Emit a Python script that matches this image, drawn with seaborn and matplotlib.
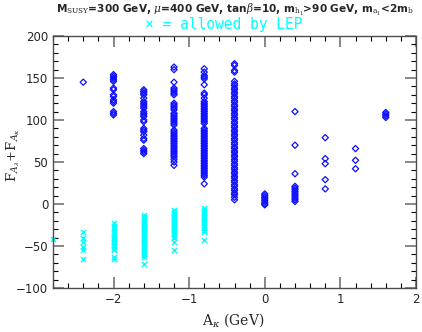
import numpy as np
import pandas as pd
import seaborn as sns
from matplotlib import pyplot as plt
from matplotlib.ticker import MultipleLocator

sns.set_style("ticks")
plt.rcParams["font.family"] = ["DejaVu Sans"]
plt.rcParams["mathtext.fontset"] = "dejavuserif"

# A_kappa columns and the F values
blue_m24 = [145]
blue_m20 = [154, 152, 150, 148, 146, 138, 136, 130, 128, 124, 122, 120, 110, 108, 106]
blue_m16 = [136, 134, 132, 130, 126, 122, 120, 118, 116, 114, 110, 108, 106, 104, 100, 98,
            90, 88, 86, 82, 78, 76, 66, 64, 62, 60]
blue_m12 = [163, 160, 145, 138, 136, 134, 132, 130, 120, 118, 116, 114, 112, 108, 106, 104,
            102, 100, 98, 96, 94, 88, 86, 84, 82, 80, 78, 76, 74, 72, 70, 68, 66, 64, 62,
            60, 58, 56, 53, 50, 46]
blue_m08 = [161, 157, 153, 151, 149, 142, 132, 130, 126, 122, 120, 118, 116, 114, 112, 110,
            108, 106, 104, 102, 100, 98, 96, 90, 88, 86, 84, 82, 80, 78, 76, 74, 72, 70, 68,
            66, 64, 62, 60, 58, 56, 54, 52, 50, 48, 46, 44, 42, 40, 38, 36, 34, 32, 24]
blue_m04 = [167, 165, 159, 157, 146, 143, 141, 138, 136, 133, 131, 128, 126, 123, 121, 118,
            116, 113, 111, 108, 106, 103, 101, 98, 96, 93, 91, 88, 86, 83, 81, 78, 76, 73,
            71, 68, 66, 63, 61, 58, 56, 53, 51, 48, 46, 43, 41, 38, 36, 33, 31, 28, 26, 23,
            21, 18, 16, 13, 11, 8, 5]
blue_0 = [12, 10, 8, 6, 4, 2, 0, -1]
blue_p04 = [110, 70, 36, 21, 19, 17, 15, 13, 11, 9, 7, 5, 3]
blue_p08 = [79, 54, 48, 29, 18]
blue_p12 = [66, 52, 42]
blue_p16 = [109, 107, 105, 103]

cyan_m28 = [-42]
cyan_m24 = [-33, -41, -45, -51, -55, -66]
cyan_m20 = [-23, -26, -29, -32, -35, -37, -39, -41, -43, -45, -47, -49, -51, -53, -55, -63, -65]
cyan_m16 = [-13, -15, -17, -19, -21, -23, -25, -27, -29, -31, -33, -35, -37, -39, -41, -43,
            -45, -47, -49, -51, -53, -55, -57, -59, -61, -63, -71]
cyan_m12 = [-7, -9, -11, -13, -15, -17, -19, -21, -23, -25, -27, -29, -31, -33, -35, -37,
            -39, -41, -45, -55]
cyan_m08 = [-5, -7, -9, -11, -13, -15, -17, -19, -21, -23, -25, -27, -29, -31, -33, -43]

blue_cols = {-2.4: blue_m24, -2.0: blue_m20, -1.6: blue_m16, -1.2: blue_m12, -0.8: blue_m08,
             -0.4: blue_m04, 0.0: blue_0, 0.4: blue_p04, 0.8: blue_p08, 1.2: blue_p12,
             1.6: blue_p16}
cyan_cols = {-2.8: cyan_m28, -2.4: cyan_m24, -2.0: cyan_m20, -1.6: cyan_m16, -1.2: cyan_m12,
             -0.8: cyan_m08}

blue = pd.DataFrame([(k, v) for k, vals in blue_cols.items() for v in vals], columns=["ak", "fa"])
cyan = pd.DataFrame([(k, v) for k, vals in cyan_cols.items() for v in vals], columns=["ak", "fa"])

fig = plt.figure(figsize=(4.22, 3.32), dpi=100)
ax = fig.add_axes([53 / 422, 44 / 332, 363 / 422, 252 / 332])

sns.scatterplot(data=blue, x="ak", y="fa", marker="D", s=10, facecolor="none",
                edgecolor="#1010ff", linewidth=0.9, ax=ax)
sns.scatterplot(data=cyan, x="ak", y="fa", marker="x", s=14, color="#00ffff",
                linewidth=1.0, ax=ax, clip_on=False)

ax.set_xlim(-2.8, 2)
ax.set_ylim(-100, 200)
ax.xaxis.set_major_locator(MultipleLocator(1))
ax.xaxis.set_minor_locator(MultipleLocator(0.2))
ax.yaxis.set_major_locator(MultipleLocator(50))
ax.yaxis.set_minor_locator(MultipleLocator(10))
ax.tick_params(which="both", direction="in", top=True, right=True, labelsize=8.5)
ax.tick_params(which="major", length=8, width=1.2, color="0.45")
ax.tick_params(which="minor", length=3.5, width=0.8, color="black")
for sp in ax.spines.values():
    sp.set_linewidth(1.0)
    sp.set_color("0.3")

ax.set_xlabel(r"A$_\kappa$ (GeV)", fontsize=10, family="DejaVu Serif")
ax.xaxis.set_label_coords((233 - 53) / 363, -(311 - 288) / 252)
ax.set_ylabel(r"F$_{A_\lambda}$+F$_{A_\kappa}$", fontsize=9.5, family="DejaVu Serif")
ax.yaxis.set_label_coords(-(53 - 22) / 363, (288 - 155) / 252)

fig.text(0.5 * (53 + 417) / 422, 1 - 10 / 332,
         r"M$_{\rm SUSY}$=300 GeV, $\mu$=400 GeV, tan$\beta$=10, m$_{\rm h_1}$>90 GeV, m$_{\rm a_1}$<2m$_{\rm b}$",
         ha="center", va="center", fontsize=7.6, fontweight="bold")
fig.text(224 / 422, 1 - 25 / 332, "\u00d7 = allowed by LEP", ha="center", va="center",
         fontsize=10.5, family="DejaVu Sans Mono", color="#00ffff")

plt.savefig("out.png", dpi=100)
plt.close()
